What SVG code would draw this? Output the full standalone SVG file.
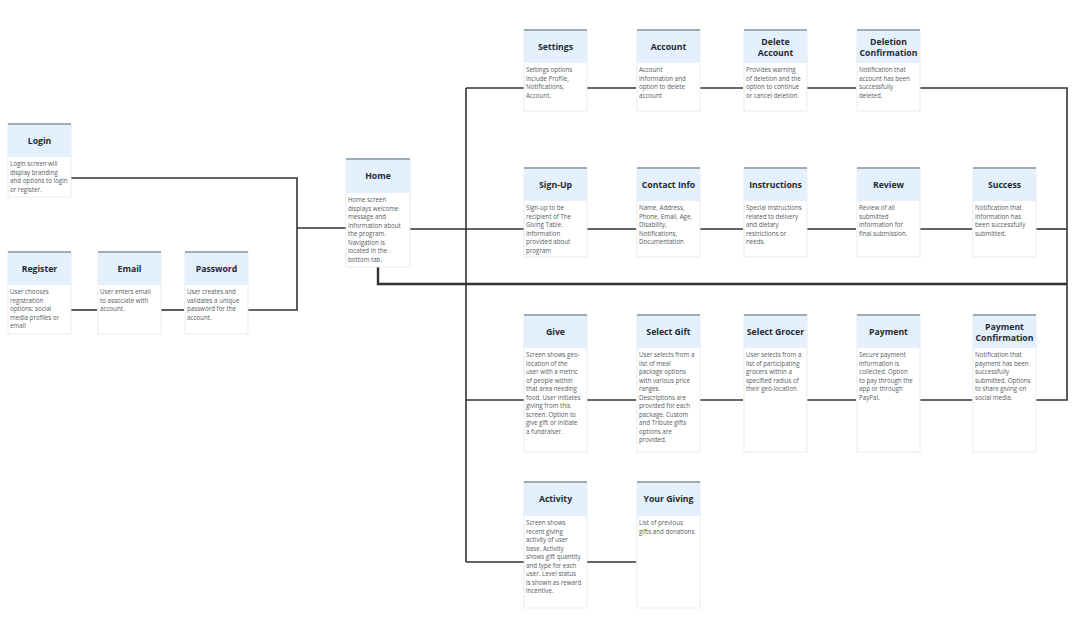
<svg xmlns="http://www.w3.org/2000/svg" width="1074" height="638" viewBox="0 0 1074 638">
<style>
.box{fill:#ffffff;stroke:#e3e6e8;stroke-width:0.8}
.hd{fill:#e4f1fc}
.tp{stroke:#9eacb3;stroke-width:2}
.t{font-family:"Open Sans","Liberation Sans",sans-serif;font-weight:bold;font-size:8.7px;fill:#1f2a33;text-anchor:middle}
.b{font-family:"Open Sans","Liberation Sans",sans-serif;font-size:6.2px;fill:#555b60}
.c{fill:none;stroke:#333;stroke-width:1.6}
.ct{fill:none;stroke:#333;stroke-width:2.4}
</style>
<rect width="1074" height="638" fill="#ffffff"/>
<g id="connectors">
<path class="c" d="M71,178 H297 V310 H248"/>
<path class="c" d="M297,228 H346"/>
<path class="c" d="M71,310 H97"/>
<path class="c" d="M161,310 H184"/>
<path class="c" d="M410,229 H524"/>
<path class="c" d="M466,88 V562"/>
<path class="c" d="M466,88 H524"/>
<path class="c" d="M587,88 H636"/>
<path class="c" d="M700,88 H743"/>
<path class="c" d="M807,88 H856"/>
<path class="c" d="M920,88 H1067 V400 H1036"/>
<path class="c" d="M587,229 H636"/>
<path class="c" d="M700,229 H743"/>
<path class="c" d="M807,229 H856"/>
<path class="c" d="M920,229 H972"/>
<path class="c" d="M1036,229 H1067"/>
<path class="ct" d="M378,267 V284 H1067"/>
<path class="c" d="M466,400 H524"/>
<path class="c" d="M587,400 H636"/>
<path class="c" d="M700,400 H743"/>
<path class="c" d="M807,400 H856"/>
<path class="c" d="M920,400 H972"/>
<path class="c" d="M466,562 H524"/>
<path class="c" d="M587,562 H636"/>
</g>

<g id="login" transform="translate(8,124)">
<rect class="box" width="63" height="73"/><rect class="hd" width="63" height="33"/><line class="tp" x1="0" y1="0" x2="63" y2="0"/>
<text class="t" x="31.5" y="19.5">Login</text>
<text class="b" x="2"><tspan x="2" y="42">Login screen will</tspan><tspan x="2" y="50.5">display branding</tspan><tspan x="2" y="59">and options to login</tspan><tspan x="2" y="67.5">or register.</tspan></text>
</g>

<g id="register" transform="translate(8,252)">
<rect class="box" width="63" height="82"/><rect class="hd" width="63" height="33"/><line class="tp" x1="0" y1="0" x2="63" y2="0"/>
<text class="t" x="31.5" y="19.5">Register</text>
<text class="b"><tspan x="2" y="42">User chooses</tspan><tspan x="2" y="50.5">registration</tspan><tspan x="2" y="59">options: social</tspan><tspan x="2" y="67.5">media profiles or</tspan><tspan x="2" y="76">email</tspan></text>
</g>

<g id="email" transform="translate(98,252)">
<rect class="box" width="63" height="82"/><rect class="hd" width="63" height="33"/><line class="tp" x1="0" y1="0" x2="63" y2="0"/>
<text class="t" x="31.5" y="19.5">Email</text>
<text class="b"><tspan x="2" y="42">User enters email</tspan><tspan x="2" y="50.5">to associate with</tspan><tspan x="2" y="59">account.</tspan></text>
</g>

<g id="password" transform="translate(185,252)">
<rect class="box" width="63" height="82"/><rect class="hd" width="63" height="33"/><line class="tp" x1="0" y1="0" x2="63" y2="0"/>
<text class="t" x="31.5" y="19.5">Password</text>
<text class="b"><tspan x="2" y="42">User creates and</tspan><tspan x="2" y="50.5">validates a unique</tspan><tspan x="2" y="59">password for the</tspan><tspan x="2" y="67.5">account.</tspan></text>
</g>

<g id="home" transform="translate(346,159)">
<rect class="box" width="64" height="108"/><rect class="hd" width="64" height="34"/><line class="tp" x1="0" y1="0" x2="64" y2="0"/>
<text class="t" x="32" y="20">Home</text>
<text class="b"><tspan x="2" y="43">Home screen</tspan><tspan x="2" y="51.5">displays welcome</tspan><tspan x="2" y="60">message and</tspan><tspan x="2" y="68.5">information about</tspan><tspan x="2" y="77">the program.</tspan><tspan x="2" y="85.5">Navigation is</tspan><tspan x="2" y="94">located in the</tspan><tspan x="2" y="102.5">bottom tab.</tspan></text>
</g>

<g id="settings" transform="translate(524,30)">
<rect class="box" width="63" height="81"/><rect class="hd" width="63" height="33"/><line class="tp" x1="0" y1="0" x2="63" y2="0"/>
<text class="t" x="31.5" y="19.5">Settings</text>
<text class="b"><tspan x="2" y="42">Settings options</tspan><tspan x="2" y="50.5">include Profile,</tspan><tspan x="2" y="59">Notifications,</tspan><tspan x="2" y="67.5">Account.</tspan></text>
</g>

<g id="account" transform="translate(637,30)">
<rect class="box" width="63" height="81"/><rect class="hd" width="63" height="33"/><line class="tp" x1="0" y1="0" x2="63" y2="0"/>
<text class="t" x="31.5" y="19.5">Account</text>
<text class="b"><tspan x="2" y="42">Account</tspan><tspan x="2" y="50.5">information and</tspan><tspan x="2" y="59">option to delete</tspan><tspan x="2" y="67.5">account</tspan></text>
</g>

<g id="delete-account" transform="translate(744,30)">
<rect class="box" width="63" height="81"/><rect class="hd" width="63" height="33"/><line class="tp" x1="0" y1="0" x2="63" y2="0"/>
<text class="t" x="31.5" y="14.5">Delete</text>
<text class="t" x="31.5" y="25.5">Account</text>
<text class="b"><tspan x="2" y="42">Provides warning</tspan><tspan x="2" y="50.5">of deletion and the</tspan><tspan x="2" y="59">option to continue</tspan><tspan x="2" y="67.5">or cancel deletion.</tspan></text>
</g>

<g id="deletion-confirmation" transform="translate(857,30)">
<rect class="box" width="63" height="81"/><rect class="hd" width="63" height="33"/><line class="tp" x1="0" y1="0" x2="63" y2="0"/>
<text class="t" x="31.5" y="14.5">Deletion</text>
<text class="t" x="31.5" y="25.5">Confirmation</text>
<text class="b"><tspan x="2" y="42">Notification that</tspan><tspan x="2" y="50.5">account has been</tspan><tspan x="2" y="59">successfully</tspan><tspan x="2" y="67.5">deleted.</tspan></text>
</g>

<g id="sign-up" transform="translate(524,168)">
<rect class="box" width="63" height="89"/><rect class="hd" width="63" height="33"/><line class="tp" x1="0" y1="0" x2="63" y2="0"/>
<text class="t" x="31.5" y="19.5">Sign-Up</text>
<text class="b"><tspan x="2" y="42">Sign-up to be</tspan><tspan x="2" y="50.5">recipient of The</tspan><tspan x="2" y="59">Giving Table.</tspan><tspan x="2" y="67.5">Information</tspan><tspan x="2" y="76">provided about</tspan><tspan x="2" y="84.5">program</tspan></text>
</g>

<g id="contact-info" transform="translate(637,168)">
<rect class="box" width="63" height="89"/><rect class="hd" width="63" height="33"/><line class="tp" x1="0" y1="0" x2="63" y2="0"/>
<text class="t" x="31.5" y="19.5">Contact Info</text>
<text class="b"><tspan x="2" y="42">Name, Address,</tspan><tspan x="2" y="50.5">Phone, Email, Age,</tspan><tspan x="2" y="59">Disability,</tspan><tspan x="2" y="67.5">Notifications,</tspan><tspan x="2" y="76">Documentation</tspan></text>
</g>

<g id="instructions" transform="translate(744,168)">
<rect class="box" width="63" height="89"/><rect class="hd" width="63" height="33"/><line class="tp" x1="0" y1="0" x2="63" y2="0"/>
<text class="t" x="31.5" y="19.5">Instructions</text>
<text class="b"><tspan x="2" y="42">Special instructions</tspan><tspan x="2" y="50.5">related to delivery</tspan><tspan x="2" y="59">and dietary</tspan><tspan x="2" y="67.5">restrictions or</tspan><tspan x="2" y="76">needs.</tspan></text>
</g>

<g id="review" transform="translate(857,168)">
<rect class="box" width="63" height="89"/><rect class="hd" width="63" height="33"/><line class="tp" x1="0" y1="0" x2="63" y2="0"/>
<text class="t" x="31.5" y="19.5">Review</text>
<text class="b"><tspan x="2" y="42">Review of all</tspan><tspan x="2" y="50.5">submitted</tspan><tspan x="2" y="59">information for</tspan><tspan x="2" y="67.5">final submission.</tspan></text>
</g>

<g id="success" transform="translate(973,168)">
<rect class="box" width="63" height="89"/><rect class="hd" width="63" height="33"/><line class="tp" x1="0" y1="0" x2="63" y2="0"/>
<text class="t" x="31.5" y="19.5">Success</text>
<text class="b"><tspan x="2" y="42">Notification that</tspan><tspan x="2" y="50.5">information has</tspan><tspan x="2" y="59">been successfully</tspan><tspan x="2" y="67.5">submitted.</tspan></text>
</g>

<g id="give" transform="translate(524,315)">
<rect class="box" width="63" height="137"/><rect class="hd" width="63" height="33"/><line class="tp" x1="0" y1="0" x2="63" y2="0"/>
<text class="t" x="31.5" y="19.5">Give</text>
<text class="b"><tspan x="2" y="42">Screen shows geo-</tspan><tspan x="2" y="50.5">location of the</tspan><tspan x="2" y="59">user with a metric</tspan><tspan x="2" y="67.5">of people within</tspan><tspan x="2" y="76">that area needing</tspan><tspan x="2" y="84.5">food. User initiates</tspan><tspan x="2" y="93">giving from this</tspan><tspan x="2" y="101.5">screen. Option to</tspan><tspan x="2" y="110">give gift or initiate</tspan><tspan x="2" y="118.5">a fundraiser.</tspan></text>
</g>

<g id="select-gift" transform="translate(637,315)">
<rect class="box" width="63" height="137"/><rect class="hd" width="63" height="33"/><line class="tp" x1="0" y1="0" x2="63" y2="0"/>
<text class="t" x="31.5" y="19.5">Select Gift</text>
<text class="b"><tspan x="2" y="42">User selects from a</tspan><tspan x="2" y="50.5">list of meal</tspan><tspan x="2" y="59">package options</tspan><tspan x="2" y="67.5">with various price</tspan><tspan x="2" y="76">ranges.</tspan><tspan x="2" y="84.5">Descriptions are</tspan><tspan x="2" y="93">provided for each</tspan><tspan x="2" y="101.5">package. Custom</tspan><tspan x="2" y="110">and Tribute gifts</tspan><tspan x="2" y="118.5">options are</tspan><tspan x="2" y="127">provided.</tspan></text>
</g>

<g id="select-grocer" transform="translate(744,315)">
<rect class="box" width="63" height="137"/><rect class="hd" width="63" height="33"/><line class="tp" x1="0" y1="0" x2="63" y2="0"/>
<text class="t" x="31.5" y="19.5">Select Grocer</text>
<text class="b"><tspan x="2" y="42">User selects from a</tspan><tspan x="2" y="50.5">list of participating</tspan><tspan x="2" y="59">grocers within a</tspan><tspan x="2" y="67.5">specified radius of</tspan><tspan x="2" y="76">their geo-location</tspan></text>
</g>

<g id="payment" transform="translate(857,315)">
<rect class="box" width="63" height="137"/><rect class="hd" width="63" height="33"/><line class="tp" x1="0" y1="0" x2="63" y2="0"/>
<text class="t" x="31.5" y="19.5">Payment</text>
<text class="b"><tspan x="2" y="42">Secure payment</tspan><tspan x="2" y="50.5">information is</tspan><tspan x="2" y="59">collected. Option</tspan><tspan x="2" y="67.5">to pay through the</tspan><tspan x="2" y="76">app or through</tspan><tspan x="2" y="84.5">PayPal.</tspan></text>
</g>

<g id="payment-confirmation" transform="translate(973,315)">
<rect class="box" width="63" height="137"/><rect class="hd" width="63" height="33"/><line class="tp" x1="0" y1="0" x2="63" y2="0"/>
<text class="t" x="31.5" y="14.5">Payment</text>
<text class="t" x="31.5" y="25.5">Confirmation</text>
<text class="b"><tspan x="2" y="42">Notification that</tspan><tspan x="2" y="50.5">payment has been</tspan><tspan x="2" y="59">successfully</tspan><tspan x="2" y="67.5">submitted. Options</tspan><tspan x="2" y="76">to share giving on</tspan><tspan x="2" y="84.5">social media.</tspan></text>
</g>

<g id="activity" transform="translate(524,482)">
<rect class="box" width="63" height="126"/><rect class="hd" width="63" height="34"/><line class="tp" x1="0" y1="0" x2="63" y2="0"/>
<text class="t" x="31.5" y="20">Activity</text>
<text class="b"><tspan x="2" y="43">Screen shows</tspan><tspan x="2" y="51.5">recent giving</tspan><tspan x="2" y="60">activity of user</tspan><tspan x="2" y="68.5">base. Activity</tspan><tspan x="2" y="77">shows gift quantity</tspan><tspan x="2" y="85.5">and type for each</tspan><tspan x="2" y="94">user. Level status</tspan><tspan x="2" y="102.5">is shown as reward</tspan><tspan x="2" y="111">incentive.</tspan></text>
</g>

<g id="your-giving" transform="translate(637,482)">
<rect class="box" width="63" height="126"/><rect class="hd" width="63" height="34"/><line class="tp" x1="0" y1="0" x2="63" y2="0"/>
<text class="t" x="31.5" y="20">Your Giving</text>
<text class="b"><tspan x="2" y="43">List of previous</tspan><tspan x="2" y="51.5">gifts and donations</tspan></text>
</g>
</svg>
